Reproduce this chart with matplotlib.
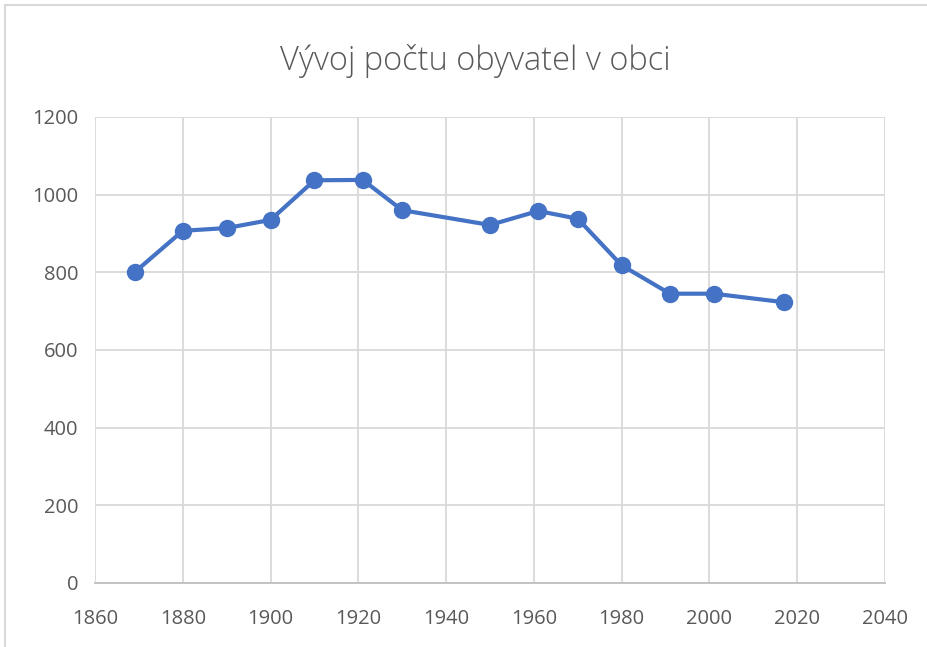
import matplotlib
matplotlib.use("Agg")
import matplotlib.pyplot as plt
from matplotlib.patches import Rectangle

# data
roky = [1869, 1880, 1890, 1900, 1910, 1921, 1930, 1950, 1961, 1970, 1980, 1991, 2001, 2017]
obyvatele = [800, 907, 914, 935, 1037, 1038, 960, 922, 958, 938, 818, 745, 745, 723]
x_ticks = [1860, 1880, 1900, 1920, 1940, 1960, 1980, 2000, 2020, 2040]
y_ticks = [0, 200, 400, 600, 800, 1000, 1200]
titulek = "Vývoj počtu obyvatel v obci"

plt.rcParams['font.family'] = ['Open Sans', 'DejaVu Sans']
seda = "#595959"

fig = plt.figure(figsize=(9.27, 6.47), dpi=100)
ax = fig.add_axes([95/927, 1 - 583/647, 790/927, 466/647])

ax.plot(roky, obyvatele, color="#4472C4", lw=3, marker="o", ms=11.5, zorder=3)

ax.set_xlim(1860, 2040)
ax.set_ylim(0, 1200)
ax.set_xticks(x_ticks)
ax.set_yticks(y_ticks)
ax.grid(True, color="#d9d9d9", lw=1.3)
ax.set_axisbelow(True)
for s in ["top", "right", "left"]:
    ax.spines[s].set_visible(False)
ax.spines["bottom"].set_color("#bfbfbf")
ax.spines["bottom"].set_linewidth(1.3)
ax.tick_params(length=0, labelsize=14.5, colors=seda)
ax.tick_params(axis="x", pad=19)
ax.tick_params(axis="y", pad=12)

fig.text(475/927, 1 - 61/647, titulek, ha="center", va="center", fontsize=23.5, color=seda,
         fontweight="light")

# screenshot frame
fig.patches.append(Rectangle((5/927, -0.01), 1.0, 1 - 5/647 + 0.01, transform=fig.transFigure,
                             fill=False, edgecolor="#d9d9d9", lw=1.5))

fig.savefig("out.png", dpi=100)
